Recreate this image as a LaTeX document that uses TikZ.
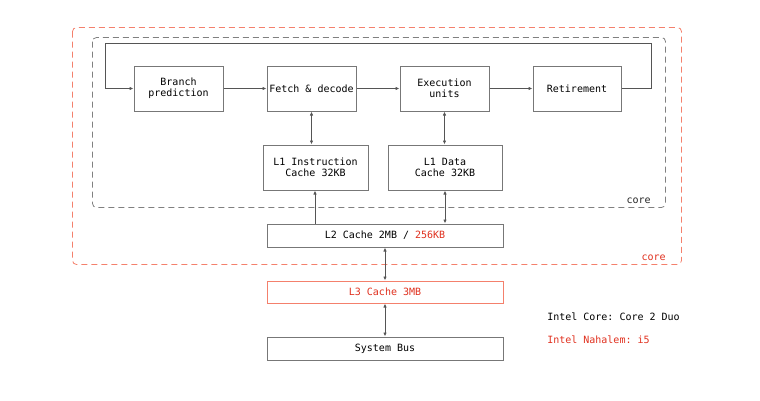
\documentclass[tikz,border=0pt]{standalone}
\usepackage{fontspec}
\setmonofont{DejaVu Sans Mono}
\usetikzlibrary{arrows.meta}
\definecolor{boxgray}{HTML}{777777}
\definecolor{linegray}{HTML}{555555}
\definecolor{redtxt}{HTML}{E0301E}
\definecolor{salmon}{HTML}{F4806C}
\definecolor{dashgray}{HTML}{808080}
\tikzset{
  blkbase/.style={line width=0.75pt, fill=white, inner sep=0pt, align=center, font=\ttfamily\fontsize{7.5pt}{8.4pt}\selectfont},
  blk/.style={blkbase, draw=boxgray},
  redblk/.style={blkbase, draw=salmon, text=redtxt},
  conn/.style={draw=linegray, line width=0.6pt, -{Latex[length=3pt,width=2.6pt]}},
  dconn/.style={draw=linegray, line width=0.6pt, {Latex[length=3pt,width=2.6pt]}-{Latex[length=3pt,width=2.6pt]}},
  lbl/.style={font=\ttfamily\fontsize{7.5pt}{9pt}\selectfont, inner sep=0pt, anchor=west},
}
\begin{document}
\begin{tikzpicture}[x=0.75pt,y=-0.75pt]
\useasboundingbox (0,0) rectangle (760,400);
% containers
\draw[salmon, line width=0.6pt, dash pattern=on 4.5pt off 3pt, rounded corners=3pt] (72.5,27.5) rectangle (681.5,264.5);
\draw[dashgray, line width=0.6pt, dash pattern=on 4.5pt off 3pt, rounded corners=3pt] (92.5,37.5) rectangle (665.5,207.5);
\node[lbl, text=black!85, anchor=base east] (corelbl) at (651,203) {core};
\node[lbl, text=redtxt, anchor=base east] (corelbl2) at (666,260) {core};
% pipeline boxes
\node[blk, minimum width=89*0.75pt, minimum height=45*0.75pt] (bp) at (178.5,88.5) {Branch\\prediction};
\node[blk, minimum width=89*0.75pt, minimum height=45*0.75pt] (fd) at (311.5,88.5) {Fetch \& decode};
\node[blk, minimum width=89*0.75pt, minimum height=45*0.75pt] (eu) at (444.5,88.5) {Execution\\units};
\node[blk, minimum width=88*0.75pt, minimum height=45*0.75pt] (rt) at (577,88.5) {Retirement};
% L1
\node[blk, minimum width=105*0.75pt, minimum height=45*0.75pt] (l1i) at (315.5,167.5) {L1 Instruction\\Cache 32KB};
\node[blk, minimum width=114*0.75pt, minimum height=45*0.75pt] (l1d) at (445,167.5) {L1 Data\\Cache 32KB};
% lower
\node[blk, minimum width=236*0.75pt, minimum height=23*0.75pt] (l2) at (385,235.5) {L2 Cache 2MB / \textcolor{redtxt}{256KB}};
\node[redblk, minimum width=236*0.75pt, minimum height=22*0.75pt] (l3) at (385,292) {L3 Cache 3MB};
\node[blk, minimum width=236*0.75pt, minimum height=23*0.75pt] (bus) at (385,348.5) {System Bus};
% legend
\node[lbl] (leg1) at (547,317) {Intel Core: Core 2 Duo};
\node[lbl, text=redtxt] (leg2) at (547,340) {Intel Nahalem: i5};
% connectors
\draw[conn] (bp) -- (fd);
\draw[conn] (fd) -- (eu);
\draw[conn] (eu) -- (rt);
\coordinate (lr) at (651,88.5);
\coordinate (lt) at (105,43.5);
\draw[conn] (rt.east) -| (lr) |- (lt) |- (bp.west);
\draw[dconn] (fd.south) -- (fd.south |- l1i.north);
\draw[dconn] (eu.south) -- (eu.south |- l1d.north);
\draw[conn] (l2.north -| 315,0) -- (l1i.south -| 315,0);
\draw[dconn] (l2.north -| 445,0) -- (l1d.south);
\draw[dconn] (l2.south) -- (l3.north);
\draw[dconn] (l3.south) -- (bus.north);
\end{tikzpicture}
\end{document}
